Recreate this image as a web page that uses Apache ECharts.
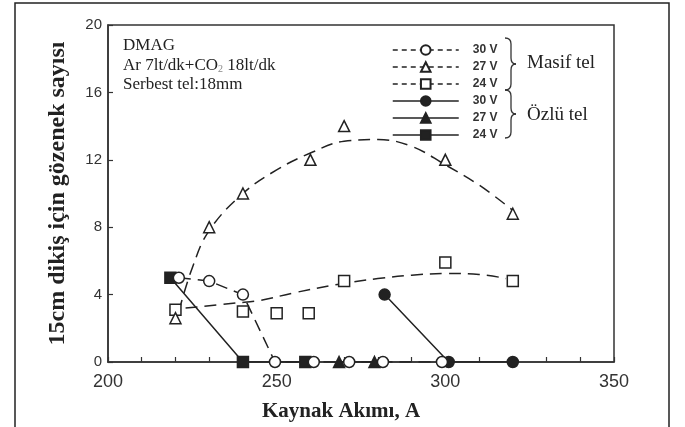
<!DOCTYPE html>
<html>
<head>
<meta charset="utf-8">
<script src="https://cdn.jsdelivr.net/npm/echarts@6/dist/echarts.min.js"></script>
<style>
  html, body { margin: 0; padding: 0; background: #fff; }
  #chart { width: 685px; height: 427px; }
</style>
</head>
<body>
<div id="chart"></div>
<script>
// Porosity count per 15 cm weld vs. welding current (DMAG process)

// Axis ranges / ticks
const xRange = { min: 200, max: 350, step: 50 };
const yRange = { min: 0, max: 20, step: 4 };

// Solid wire (Masif tel) measurements: [current A, pore count]
const masif30V = [[221, 5], [230, 4.8], [240, 4], [249.5, 0], [261, 0], [271.5, 0], [281.5, 0], [299, 0]];
const masif27V = [[220, 2.6], [230, 8], [240, 10], [260, 12], [270, 14], [300, 12], [320, 8.8]];
const masif24V = [[220, 3.1], [240, 3], [250, 2.9], [259.5, 2.9], [270, 4.8], [300, 5.9], [320, 4.8]];

// Hand-drawn trend curves through the 27 V and 24 V solid wire points
const masif27Vcurve = [[221, 3.0], [225, 5.6], [230, 7.8], [240, 10.0], [250, 11.4], [260, 12.4],
                       [270, 13.1], [280, 13.2], [290, 12.8], [300, 11.7], [310, 10.5], [320, 9.0]];
const masif24Vcurve = [[223, 3.2], [238, 3.5], [245, 3.65], [255, 4.1], [268, 4.6], [280, 4.95],
                       [290, 5.15], [300, 5.25], [310, 5.2], [318, 4.95]];

// Flux-cored wire (Özlü tel) measurements
const ozlu30V = [[282, 4], [301, 0], [320, 0]];
const ozlu27V = [[268.5, 0], [279, 0]];
const ozlu24V = [[218.5, 5], [240, 0], [258.5, 0]];

const INK = '#222';
const DASH = [12, 7];

const chart = echarts.init(document.getElementById('chart'), null, { renderer: 'canvas' });

function pointSeries(name, data, symbol, filled, dashed, showLine) {
  return {
    name: name,
    type: 'line',
    data: data,
    symbol: symbol,
    symbolSize: 11,
    showSymbol: true,
    z: 5,
    animation: false,
    itemStyle: {
      color: filled ? INK : '#fff',
      borderColor: INK,
      borderWidth: 1.5
    },
    lineStyle: {
      color: INK,
      width: showLine ? 1.5 : 0,
      opacity: showLine ? 1 : 0,
      type: dashed ? DASH : 'solid'
    },
    emphasis: { disabled: true }
  };
}

function curveSeries(name, data) {
  return {
    name: name,
    type: 'line',
    data: data,
    smooth: 0.4,
    symbol: 'none',
    z: 3,
    animation: false,
    lineStyle: { color: INK, width: 1.5, type: DASH },
    emphasis: { disabled: true }
  };
}

const legendLine = (dashed) => ({ color: INK, width: 1.5, opacity: 1, type: dashed ? [5, 4] : 'solid' });

// Curly brace "}" built from quadratic curves, spanning y0..y1 at column x
function brace(x, y0, y1) {
  const m = (y0 + y1) / 2;
  const st = { fill: 'none', stroke: '#333', lineWidth: 1.3 };
  const seg = (x1, y1_, x2, y2, cx, cy) => ({
    type: 'bezierCurve', silent: true,
    shape: { x1: x1, y1: y1_, x2: x2, y2: y2, cpx1: cx, cpy1: cy },
    style: st
  });
  const ln = (x1, y1_, x2, y2) => ({
    type: 'line', silent: true, shape: { x1: x1, y1: y1_, x2: x2, y2: y2 }, style: st
  });
  return [
    seg(x - 6, y0, x, y0 + 6, x, y0),
    ln(x, y0 + 6, x, m - 6),
    seg(x, m - 6, x + 5, m, x, m),
    seg(x + 5, m, x, m + 6, x, m),
    ln(x, m + 6, x, y1 - 6),
    seg(x, y1 - 6, x - 6, y1, x, y1)
  ];
}

const option = {
  backgroundColor: '#fff',
  animation: false,
  grid: {
    left: 108, right: 71, top: 25, bottom: 64,
    show: true, borderColor: '#333', borderWidth: 1.5, backgroundColor: 'transparent'
  },
  xAxis: {
    type: 'value',
    min: xRange.min, max: xRange.max, interval: xRange.step,
    axisLine: { lineStyle: { color: '#333', width: 1.5 } },
    axisTick: { inside: true, length: 5, lineStyle: { color: '#333', width: 1.2 } },
    minorTick: { show: true, splitNumber: 5, length: 5, lineStyle: { color: '#333', width: 1.2 } },
    splitLine: { show: false },
    axisLabel: { color: '#333', fontFamily: 'Liberation Sans', fontSize: 18, margin: 11 },
    name: 'Kaynak Akımı, A',
    nameLocation: 'middle',
    nameGap: 39,
    nameTextStyle: {
      fontFamily: 'Liberation Serif', fontWeight: 'bold', fontSize: 21, color: '#222',
      padding: [0, 40, 0, 0]
    }
  },
  yAxis: {
    type: 'value',
    min: yRange.min, max: yRange.max, interval: yRange.step,
    axisLine: { show: true, lineStyle: { color: '#333', width: 1.5 } },
    axisTick: { show: true, inside: true, length: 5, lineStyle: { color: '#333', width: 1.2 } },
    splitLine: { show: false },
    axisLabel: { color: '#333', fontFamily: 'Liberation Sans', fontSize: 15, margin: 6 },
    name: '15cm dikiş için gözenek sayısı',
    nameLocation: 'middle',
    nameGap: 38,
    nameTextStyle: {
      fontFamily: 'Liberation Serif', fontWeight: 'bold', fontSize: 24, color: '#222'
    }
  },
  legend: {
    orient: 'vertical',
    left: 387, top: 39,
    itemWidth: 66, itemHeight: 12, itemGap: 5,
    selectedMode: false,
    formatter: (name) => name.replace(/^.* (\d+ V)$/, '$1'),
    textStyle: {
      fontFamily: 'Liberation Sans', fontSize: 12, fontWeight: 'bold', color: '#333',
      lineHeight: 12, padding: [0, 0, 0, 9]
    },
    data: [
      { name: 'Masif tel 30 V', lineStyle: legendLine(true) },
      { name: 'Masif tel 27 V', lineStyle: legendLine(true) },
      { name: 'Masif tel 24 V', lineStyle: legendLine(true) },
      { name: 'Özlü tel 30 V', lineStyle: legendLine(false) },
      { name: 'Özlü tel 27 V', lineStyle: legendLine(false) },
      { name: 'Özlü tel 24 V', lineStyle: legendLine(false) }
    ]
  },
  graphic: [
    // outer frame of the figure
    {
      type: 'rect', silent: true, z: 0,
      shape: { x: 15, y: 3, width: 654, height: 432 },
      style: { fill: 'none', stroke: '#222', lineWidth: 1.5 }
    },
    // process notes
    {
      type: 'text', x: 123, y: 36, silent: true,
      style: {
        text: 'DMAG\nAr 7lt/dk+CO{sub|2} 18lt/dk\nSerbest tel:18mm',
        font: '17px "Liberation Serif"', lineHeight: 19.5, fill: '#222',
        rich: { sub: { fontSize: 10, fontFamily: 'Liberation Serif', fill: '#888', padding: [8, 0, 0, 0] } }
      }
    },
    // legend group labels
    {
      type: 'text', x: 527, y: 54, silent: true,
      style: { text: 'Masif tel', font: '19px "Liberation Serif"', fill: '#222' }
    },
    {
      type: 'text', x: 527, y: 106, silent: true,
      style: { text: 'Özlü tel', font: '19px "Liberation Serif"', fill: '#222' }
    }
  ].concat(brace(511, 38, 90), brace(511, 90, 138)),
  series: [
    curveSeries('Masif tel 27 V eğri', masif27Vcurve),
    curveSeries('Masif tel 24 V eğri', masif24Vcurve),
    pointSeries('Özlü tel 24 V', ozlu24V, 'rect', true, false, true),
    pointSeries('Özlü tel 27 V', ozlu27V, 'triangle', true, false, true),
    pointSeries('Özlü tel 30 V', ozlu30V, 'circle', true, false, true),
    pointSeries('Masif tel 24 V', masif24V, 'rect', false, true, false),
    pointSeries('Masif tel 27 V', masif27V, 'triangle', false, true, false),
    pointSeries('Masif tel 30 V', masif30V, 'circle', false, true, true)
  ]
};

chart.setOption(option);
</script>
</body>
</html>
